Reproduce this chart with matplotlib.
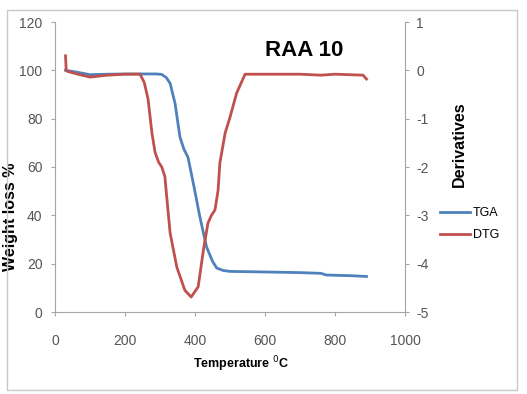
import numpy as np
import matplotlib
matplotlib.use('Agg')
import matplotlib.pyplot as plt
from matplotlib.patches import Rectangle

# TGA curve (weight loss %)
tga_temp = [30, 60, 100, 150, 200, 250, 290, 305, 318, 329, 343, 357, 368, 380, 395,
            414, 433, 450, 462, 480, 500, 586, 700, 760, 775, 800, 850, 890]
tga_weight = [100, 99.3, 98.2, 98.4, 98.5, 98.5, 98.5, 98.3, 97, 94.6, 86.3, 72.4, 67.5,
              64, 53.4, 39.3, 26.9, 21, 18.2, 17.2, 16.8, 16.6, 16.3, 16.0, 15.3, 15.2,
              15.0, 14.7]

# DTG curve (derivatives)
dtg_temp = [30, 32, 35, 60, 100, 150, 200, 243, 255, 266, 277, 286, 296, 305, 314, 320,
            329, 348, 371, 389, 409, 424, 437, 447, 457, 466, 471, 486, 500, 519, 543,
            600, 700, 760, 800, 880, 890]
dtg_deriv = [0.3, 0.0, -0.02, -0.07, -0.14, -0.1, -0.08, -0.08, -0.25, -0.6, -1.3,
             -1.7, -1.9, -2.0, -2.2, -2.68, -3.37, -4.07, -4.55, -4.69, -4.48, -3.72,
             -3.16, -3.0, -2.89, -2.48, -1.92, -1.3, -0.97, -0.47, -0.08, -0.08, -0.08,
             -0.1, -0.08, -0.1, -0.18]

blue = '#4F81BD'
red = '#C0504D'
grey = '#A6A6A6'

plt.rcParams['font.family'] = ['Liberation Sans', 'DejaVu Sans']
plt.rcParams['axes.unicode_minus'] = False

fig = plt.figure(figsize=(5.27, 3.94), dpi=100)
fig.patches.append(Rectangle((7 / 527, 4 / 394), 510 / 527, 380 / 394, transform=fig.transFigure,
                             fill=False, edgecolor='#C8C8C8', linewidth=1))

ax = fig.add_axes([55 / 527, 1 - 312 / 394, 350 / 527, 290 / 394])
ax2 = ax.twinx()

l1, = ax.plot(tga_temp, tga_weight, color=blue, linewidth=2, label='TGA')
l2, = ax2.plot(dtg_temp, dtg_deriv, color=red, linewidth=2, label='DTG')

ax.set_xlim(0, 1000)
ax.set_ylim(0, 120)
ax2.set_ylim(-5, 1)
ax.set_xticks(np.arange(0, 1001, 200))
ax.set_yticks(np.arange(0, 121, 20))
ax2.set_yticks(np.arange(-5, 2, 1))

for a in (ax, ax2):
    for s in a.spines.values():
        s.set_color(grey)
    a.spines['top'].set_visible(False)
    a.tick_params(colors='#555555', labelsize=10, length=3, color=grey)
ax.spines['right'].set_visible(False)
ax2.spines['left'].set_visible(False)
ax2.spines['bottom'].set_visible(False)
ax.tick_params(axis='x', pad=13)
ax.tick_params(axis='y', pad=6)
ax2.tick_params(axis='y', pad=5)

ax.set_xlabel('Temperature $^0$C', fontsize=9, fontweight='bold')
ax.xaxis.set_label_coords(0.53, -0.145)
ax.set_ylabel('Weight loss %', fontsize=11.5, fontweight='bold')
ax.yaxis.set_label_coords(-0.106, 0.328)
ax2.set_ylabel('Derivatives', fontsize=11.5, fontweight='bold', rotation=90)
ax2.yaxis.set_label_coords(1.134, 0.579)

ax.text(712, 108, 'RAA 10', fontsize=16, fontweight='bold', ha='center', va='center')

fig.legend([l1, l2], ['TGA', 'DTG'], loc='upper left', bbox_to_anchor=(429 / 527, 1 - 196 / 394),
           frameon=False, fontsize=9, handlelength=2.4, handletextpad=0.2, labelspacing=0.8)

fig.savefig('out.png', dpi=100)
